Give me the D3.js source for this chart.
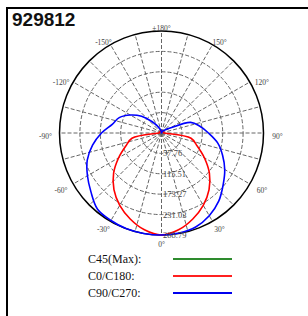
<!DOCTYPE html>
<html lang="en">
<head>
<meta charset="UTF-8">
<title>929812</title>
<script src="https://d3js.org/d3.v7.min.js"></script>
<style>
  body { margin: 0; background: #fff; }
  .grid { stroke: #666; stroke-width: 1px; stroke-dasharray: 4,2; fill: none; }
  .alabel { font-family: "Liberation Serif", serif; font-size: 7.5px; fill: #444; }
  .rlabel { font-family: "Liberation Serif", serif; font-size: 8.5px; fill: #444; }
  .legend { font-family: "Liberation Serif", serif; font-size: 12px; fill: #111; }
</style>
</head>
<body>
<svg width="308" height="316"></svg>
<script>
// C-plane angles (deg), 0 = straight down
var angles = [-180,-170,-160,-150,-140,-130,-120,-110,-100,-90,-80,-70,-60,-50,-40,-30,-20,-10,
              0,10,20,30,40,50,60,70,80,90,100,110,120,130,140,150,160,170];
// candela values
var c0c180 = [5.7,5.7,5.7,5.7,5.7,5.7,5.7,5.7,5.7,8.5,84.9,107.6,140.1,177,209.5,236.4,259,278.3,
              288.8,278.3,259,236.4,209.5,177,140.1,107.6,84.9,8.5,5.7,5.7,5.7,5.7,5.7,5.7,5.7,5.7];
var c90c270 = [0,5.7,11.3,22.6,42.5,73.6,101.9,127.4,141.6,169.9,198.2,223.7,242.1,260.5,281.7,286,288.8,288.8,
               288.8,287.4,283.1,270.4,252,227.9,206.7,184,161.4,133,110.4,87.8,28.3,14.2,8.5,5.7,2.8,2.8];
var ringValues = [57.76, 115.51, 173.27, 231.03, 288.79];
var angleLabels = [0, 30, 60, 90, 120, 150, 180, -150, -120, -90, -60, -30];
var legendNames = ["C45(Max):", "C0/C180:", "C90/C270:"];
var legendColors = ["#2e8b2e", "#ff2020", "#0000ee"];

var svg = d3.select("svg");
var cx = 161.5, cy = 133, R = 102;

// frame
svg.append("line").attr("x1", 7).attr("y1", 8).attr("x2", 7).attr("y2", 316)
    .attr("stroke", "#000").attr("stroke-width", 2);
svg.append("line").attr("x1", 6).attr("y1", 8).attr("x2", 308).attr("y2", 8)
    .attr("stroke", "#000").attr("stroke-width", 2);

svg.append("text").attr("x", 12).attr("y", 26)
    .style("font-family", "'Liberation Sans', Arial, sans-serif")
    .style("font-weight", "bold").style("font-size", "19px").style("fill", "#111")
    .text("929812");

var r = d3.scaleLinear().domain([0, 288.79]).range([0, R]);
var g = svg.append("g").attr("transform", "translate(" + cx + "," + cy + ")");

// rings
g.selectAll("circle.grid").data(ringValues.slice(0, 4)).enter()
    .append("circle").attr("class", "grid").attr("r", d => r(d));

// spokes every 15 deg
g.selectAll("line.grid").data(d3.range(0, 360, 15)).enter()
    .append("line").attr("class", "grid")
    .attr("x1", 0).attr("y1", 0)
    .attr("x2", d => R * Math.sin(d * Math.PI / 180))
    .attr("y2", d => R * Math.cos(d * Math.PI / 180));

g.append("circle").attr("r", R).attr("fill", "none").attr("stroke", "#000").attr("stroke-width", 1.5);

var line = d3.lineRadial()
    .angle(d => Math.PI - d[0] * Math.PI / 180)
    .radius(d => r(d[1]))
    .curve(d3.curveCatmullRomClosed);

g.append("path").datum(angles.map((a, i) => [a, c0c180[i]]))
    .attr("d", line).attr("fill", "none").attr("stroke", "#ff0000").attr("stroke-width", 1.6);
g.append("path").datum(angles.map((a, i) => [a, c90c270[i]]))
    .attr("d", line).attr("fill", "none").attr("stroke", "#0000ff").attr("stroke-width", 1.6);

// ring labels
g.selectAll("text.rlabel").data(ringValues).enter()
    .append("text").attr("class", "rlabel")
    .attr("x", 1.5).attr("y", d => r(d)).attr("dy", "0.35em")
    .text(d => d.toFixed(2));

// angle labels
g.selectAll("text.alabel").data(angleLabels).enter()
    .append("text").attr("class", "alabel")
    .attr("x", d => 116 * Math.sin(d * Math.PI / 180))
    .attr("y", d => 108 * Math.cos(d * Math.PI / 180) + 3)
    .attr("dy", "0.35em").attr("text-anchor", "middle")
    .text(d => (d === 180 ? "\u00b1180" : d) + "\u00b0");

// legend
var lg = svg.append("g").selectAll("g").data(legendNames).enter().append("g")
    .attr("transform", (d, i) => "translate(0," + (259 + i * 17) + ")");
lg.append("text").attr("class", "legend").attr("x", 88).attr("dy", "0.35em").text(d => d);
lg.append("line").attr("x1", 173).attr("x2", 232).attr("y1", 0).attr("y2", 0)
    .attr("stroke", (d, i) => legendColors[i]).attr("stroke-width", 2);
</script>
</body>
</html>
